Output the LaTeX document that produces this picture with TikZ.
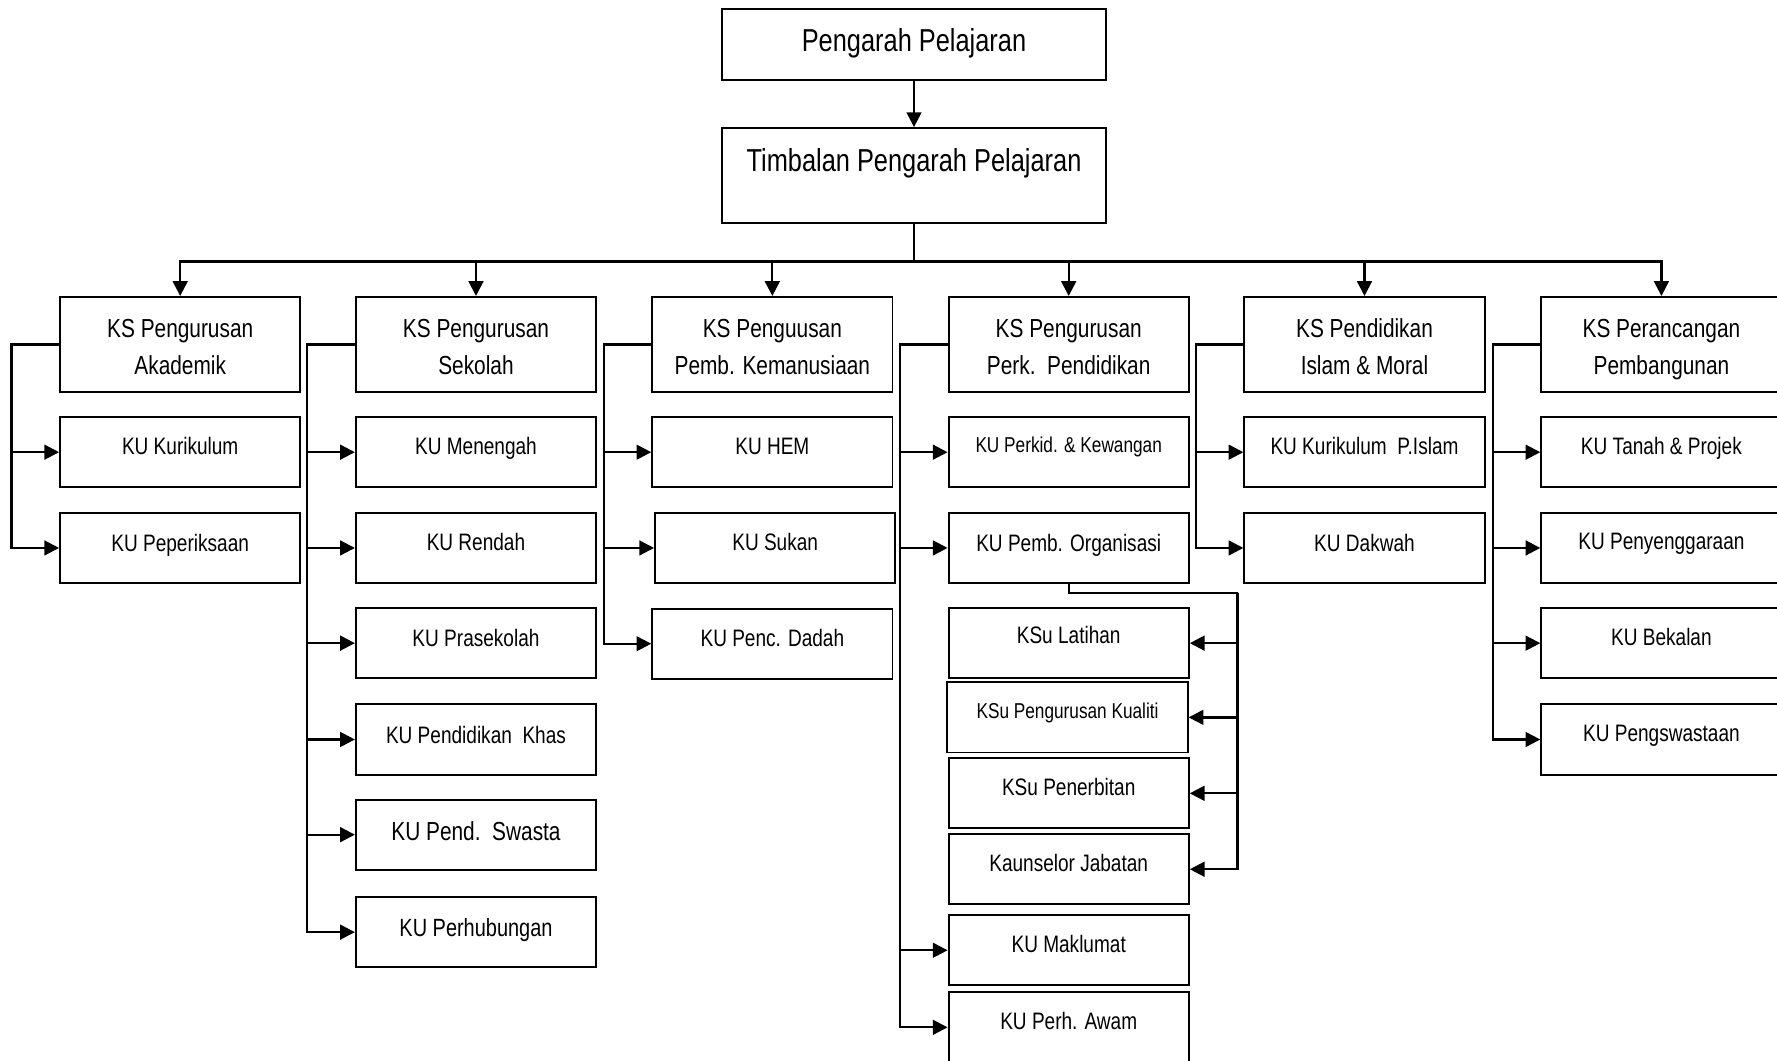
\documentclass[tikz,border=0pt]{standalone}
\usepackage{fontspec}
\setmainfont{Liberation Sans}[FakeStretch=0.8]
\usetikzlibrary{arrows.meta}
\tikzset{
  box/.style={draw, line width=1.7pt, inner sep=0pt, fill=white, align=center},
  top/.style={box, minimum width=339pt, font=\fontsize{28}{32}\selectfont},
  kbox/.style={box, minimum width=212pt, minimum height=84pt, font=\fontsize{23}{32}\selectfont},
  ubox/.style={box, minimum width=212pt, minimum height=62pt, font=\fontsize{21}{24}\selectfont},
  conn/.style={line width=2pt},
  arr/.style={conn, -{Triangle[length=13pt,width=13pt]}},
}
\newcommand{\up}[2]{\raisebox{#1pt}{#2}}
\newcommand{\kt}[2]{\rule{0pt}{25pt}#1\\#2\vphantom{g}}
\begin{document}
\begin{tikzpicture}[x=1pt,y=-1pt]
\useasboundingbox (0,0) rectangle (1568,936);
\clip (0,0) rectangle (1568,936);

% top
\node[top, minimum height=63pt] (pa) at (806.5,39.5) {\up{8}{Pengarah Pelajaran}};
\node[top, minimum height=84pt] (tp) at (806.5,155) {\up{28}{Timbalan Pengarah Pelajaran}};

% level 2
\node[kbox] (k1) at (159,304) {\kt{KS Pengurusan}{Akademik}};
\node[kbox] (k2) at (420,304) {\kt{KS Pengurusan}{Sekolah}};
\node[kbox] (k3) at (681.5,304) {\kt{KS Penguusan}{Pemb. Kemanusiaan}};
\node[kbox] (k4) at (943,304) {\kt{KS Pengurusan}{Perk.\ \ Pendidikan}};
\node[kbox] (k5) at (1204,304) {\kt{KS Pendidikan}{Islam \& Moral}};
\node[kbox] (k6) at (1466,304) {\kt{KS Perancangan}{Pembangunan}};

% column 1
\node[ubox] (a1) at (159,399) {\up{11}{KU Kurikulum}};
\node[ubox] (a2) at (159,483.5) {\up{9}{KU Peperiksaan}};

% column 2
\node[ubox] (b1) at (420,399) {\up{11}{KU Menengah}};
\node[ubox] (b2) at (420,483.5) {\up{11}{KU Rendah}};
\node[ubox] (b3) at (420,567.5) {\up{9}{KU Prasekolah}};
\node[ubox] (b4) at (420,652.5) {\up{8}{KU Pendidikan\ \ Khas}};
\node[ubox, font=\fontsize{23}{26}\selectfont] (b5) at (420,736.5) {\up{6}{KU Pend.\ \ Swasta}};
\node[ubox, font=\fontsize{22}{26}\selectfont] (b6) at (420,822.5) {\up{8}{KU Perhubungan}};

% column 3
\node[ubox] (c1) at (681.5,399) {\up{11}{KU HEM}};
\node[ubox] (c2) at (684,483.5) {\up{11}{KU Sukan}};
\node[ubox] (c3) at (681.5,568) {\up{11}{KU Penc. Dadah}};

% column 4
\node[ubox, font=\fontsize{19}{22}\selectfont] (d1) at (943,399) {\up{14}{KU Perkid. \& Kewangan}};
\node[ubox] (d2) at (943,483.5) {\up{9}{KU Pemb. Organisasi}};
\node[ubox] (d3) at (943,567.5) {\up{14}{KSu Latihan}};
\node[ubox, font=\fontsize{19}{22}\selectfont] (d4) at (942,633) {\up{12}{KSu Pengurusan Kualiti}};
\node[ubox] (d5) at (943,700) {\up{12}{KSu Penerbitan}};
\node[ubox] (d6) at (943,767) {\up{12}{Kaunselor Jabatan}};
\node[ubox] (d7) at (943,838.5) {\up{11}{KU Maklumat}};
\node[ubox] (d8) at (943,906.5) {\up{11}{KU Perh. Awam}};

% column 5
\node[ubox] (e1) at (1204,399) {\up{11}{KU Kurikulum\ \ P.Islam}};
\node[ubox] (e2) at (1204,483.5) {\up{9}{KU Dakwah}};

% column 6
\node[ubox] (f1) at (1466,399) {\up{11}{KU Tanah \& Projek}};
\node[ubox] (f2) at (1466,483.5) {\up{11}{KU Penyenggaraan}};
\node[ubox] (f3) at (1466,567.5) {\up{11}{KU Bekalan}};
\node[ubox] (f4) at (1466,652.5) {\up{11}{KU Pengswastaan}};

% top connectors
\draw[arr] (pa) -- (tp);
\draw[conn] (tp.south) -- ++(0,33) coordinate (bus);
\foreach \k in {k1,k2,k3,k4,k5,k6}{
  \draw[arr] (bus) -| (\k.north);
}

% trunks
\foreach \k/\list in {k1/{a1,a2}, k2/{b1,b2,b3,b4,b5,b6}, k3/{c1,c2,c3}, k4/{d1,d2,d7,d8}, k5/{e1,e2}, k6/{f1,f2,f3,f4}}{
  \foreach \n in \list {
    \draw[arr] (\k.west) -- ++(-42,0) |- (\n.west);
  }
}

% sub-branch from KU Pemb. Organisasi
\coordinate (sb) at (1092,523);
\draw[conn] (d2.south) |- (sb);
\foreach \n in {d3,d4,d5,d6}{
  \draw[arr] (sb) |- (\n.east);
}
\end{tikzpicture}
\end{document}
